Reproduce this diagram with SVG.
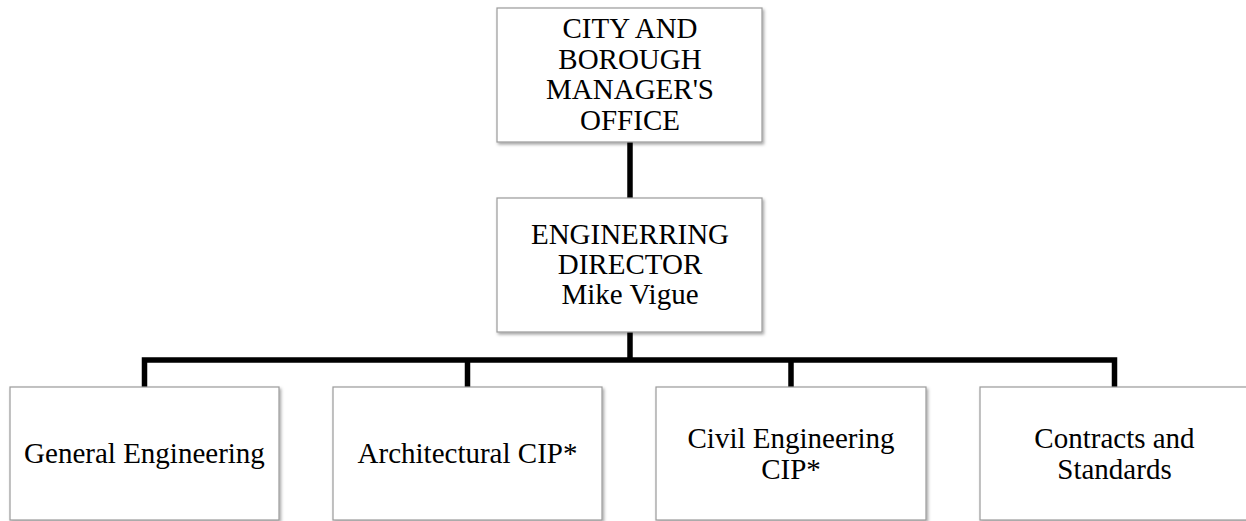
<svg xmlns="http://www.w3.org/2000/svg" width="1246" height="521" viewBox="0 0 1246 521">
<defs>
<filter id="sh" x="-5%" y="-5%" width="115%" height="115%">
<feDropShadow dx="1.5" dy="2" stdDeviation="1.5" flood-color="#000" flood-opacity="0.35"/>
</filter>
<style>
.box{fill:#fff;stroke:#9a9a9a;stroke-width:1.2;filter:url(#sh)}
.t{font-family:'Liberation Serif','Times New Roman',serif;font-size:29px;fill:#000;text-anchor:middle}
.c{fill:none;stroke:#000;stroke-width:5.5;stroke-linejoin:miter}
</style>
</defs>
<rect width="1246" height="521" fill="#fff"/>
<g id="connectors">
<path class="c" d="M630,142 V198"/>
<path class="c" d="M630,332 V360"/>
<path class="c" d="M144.5,388 V360 H1114.5 V388"/>
<path class="c" d="M467.5,360 V388"/>
<path class="c" d="M791,360 V388"/>
</g>
<g id="manager">
<rect class="box" x="497" y="8" width="265" height="134"/>
<text class="t" x="630" y="38">CITY AND</text>
<text class="t" x="630" y="68.5">BOROUGH</text>
<text class="t" x="630" y="99">MANAGER'S</text>
<text class="t" x="630" y="129.5">OFFICE</text>
</g>
<g id="director">
<rect class="box" x="497" y="198" width="265" height="134"/>
<text class="t" x="630" y="244">ENGINERRING</text>
<text class="t" x="630" y="274">DIRECTOR</text>
<text class="t" x="630" y="304">Mike Vigue</text>
</g>
<g id="general">
<rect class="box" x="10" y="387" width="269" height="133"/>
<text class="t" x="144.5" y="463">General Engineering</text>
</g>
<g id="architectural">
<rect class="box" x="333" y="387" width="269" height="133"/>
<text class="t" x="467.5" y="463">Architectural CIP*</text>
</g>
<g id="civil">
<rect class="box" x="656" y="387" width="270" height="133"/>
<text class="t" x="791" y="448">Civil Engineering</text>
<text class="t" x="791" y="478.5">CIP*</text>
</g>
<g id="contracts">
<rect class="box" x="980" y="387" width="280" height="133"/>
<text class="t" x="1114.5" y="448">Contracts and</text>
<text class="t" x="1114.5" y="478.5">Standards</text>
</g>
</svg>
